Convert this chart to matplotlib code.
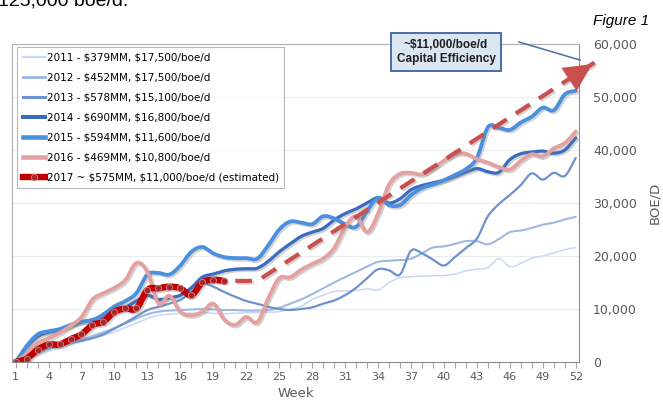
import numpy as np
import matplotlib
matplotlib.use("Agg")
import matplotlib.pyplot as plt
import matplotlib.patheffects as pe
from matplotlib.lines import Line2D
from matplotlib.ticker import FuncFormatter

# weekly production ramp, boe/d
weeks = list(range(1, 53))

prod_2011 = [0, 600, 1200, 2000, 2600, 3200, 3800, 4400, 5000, 5700,
             6500, 7300, 8200, 8800, 9000, 9200, 9200, 9300, 9200, 9100,
             9200, 9300, 9300, 9400, 9500, 10000, 10500, 11800, 12600, 13300,
             13400, 13500, 13800, 13600, 15000, 15900, 16100, 16200, 16300, 16300,
             16600, 17200, 17500, 17800, 19500, 18000, 18600, 19600, 20000, 20600,
             21200, 21600]
prod_2012 = [0, 800, 1600, 2400, 3000, 3500, 4200, 4900, 5600, 6400,
             7300, 8200, 9000, 9500, 9700, 9800, 9900, 10000, 9900, 9800,
             9800, 9700, 9700, 9800, 10200, 11000, 11800, 12800, 13900, 15000,
             16000, 17000, 18000, 18900, 19100, 19200, 19500, 20500, 21600, 21800,
             22300, 22800, 22800, 22200, 23200, 24500, 24800, 25300, 25900, 26300,
             26900, 27400]
prod_2013 = [0, 900, 1800, 2700, 3200, 3600, 4000, 4500, 5200, 6300,
             7400, 8600, 9800, 10400, 11000, 11700, 13200, 14800, 14200, 13200,
             12300, 11500, 11000, 10400, 10000, 9800, 10000, 10300, 11000, 11600,
             12600, 14000, 15800, 17500, 17300, 16500, 21000, 20500, 19300, 18200,
             19800, 21500, 23300, 27500, 29800, 31500, 33400, 35600, 34400, 35700,
             35100, 38500]
prod_2014 = [0, 2800, 4800, 5600, 6000, 6800, 7500, 8000, 8600, 9400,
             10300, 11500, 12600, 11800, 12100, 12600, 14000, 16000, 16600, 17200,
             17500, 17600, 17700, 19000, 20800, 22300, 23700, 24500, 25200, 26800,
             28000, 28900, 30000, 31000, 30000, 30800, 32500, 33300, 33800, 34300,
             35000, 35800, 36500, 35900, 35800, 38200, 39300, 39600, 39800, 39400,
             40000, 42300]
prod_2015 = [0, 3000, 5200, 5800, 6200, 7000, 7600, 7900, 9000, 10500,
             11500, 13000, 16500, 16800, 16500, 18200, 20800, 21700, 20500, 19800,
             19600, 19600, 19500, 22000, 25000, 26500, 26300, 26000, 27500, 27100,
             26000, 25500, 28500, 31000, 29600, 29600, 31500, 32800, 33500, 34300,
             35300, 36400, 38500, 44300, 44200, 43800, 45200, 46300, 48000, 47500,
             50500, 51200]
prod_2016 = [0, 1500, 3500, 4500, 5500, 6800, 8500, 11800, 13000, 14000,
             15500, 18700, 17000, 11000, 12500, 9500, 8800, 9500, 11000, 8000,
             7000, 8500, 7500, 12000, 15800, 16000, 17400, 18500, 19500, 21500,
             25500, 27500, 24500, 28000, 33500, 35500, 35700, 35400, 36500, 38000,
             39200, 39300, 38300, 37600, 36800, 36300, 38000, 39200, 38800, 40300,
             41300, 43500]
prod_2017 = [0, 600, 2300, 3300, 3300, 4300, 5200, 7000, 7600, 9500,
             10100, 10100, 13600, 13900, 14200, 13900, 12600, 15000, 15500, 15300]

# ~$11,000/boe/d outlook for the rest of 2017
trend_weeks = [21, 23, 53.7]
trend_vals = [15300, 15300, 56500]

labels = ["2011 - $379MM, $17,500/boe/d",
          "2012 - $452MM, $17,500/boe/d",
          "2013 - $578MM, $15,100/boe/d",
          "2014 - $690MM, $16,800/boe/d",
          "2015 - $594MM, $11,600/boe/d",
          "2016 - $469MM, $10,800/boe/d",
          "2017 ~ $575MM, $11,000/boe/d (estimated)"]


def smooth(x, y, n=8):
    # Catmull-Rom curve through the weekly points, like Excel's smoothed lines
    x = np.asarray(x, float)
    y = np.asarray(y, float)
    px = np.concatenate([[2 * x[0] - x[1]], x, [2 * x[-1] - x[-2]]])
    py = np.concatenate([[2 * y[0] - y[1]], y, [2 * y[-1] - y[-2]]])
    t = np.linspace(0, 1, n, endpoint=False)
    xs, ys = [], []
    for i in range(1, len(px) - 2):
        for p, out in ((px, xs), (py, ys)):
            p0, p1, p2, p3 = p[i - 1], p[i], p[i + 1], p[i + 2]
            out.extend(0.5 * (2 * p1 + (-p0 + p2) * t
                              + (2 * p0 - 5 * p1 + 4 * p2 - p3) * t ** 2
                              + (-p0 + 3 * p1 - 3 * p2 + p3) * t ** 3))
    xs.append(x[-1])
    ys.append(y[-1])
    return np.array(xs), np.array(ys)


def esc(s):
    # keep dollar signs literal instead of mathtext
    return s.replace("$", r"\$")


shadow = [pe.SimpleLineShadow(offset=(1.2, -1.2), shadow_color="#7f7f7f", alpha=0.35), pe.Normal()]

fig = plt.figure(figsize=(6.63, 4.04), dpi=100)
ax = fig.add_axes([0.0177, 0.104, 0.8557, 0.7871])

series = [
    (prod_2011, "#c9d8f0", 1.1, False),
    (prod_2012, "#9fb8e2", 1.5, False),
    (prod_2013, "#6e91cf", 1.6, False),
    (prod_2014, "#3a6cbf", 2.3, True),
    (prod_2015, "#4a8fe0", 2.7, True),
    (prod_2016, "#e5a0a0", 2.7, True),
]
handles = []
for (vals, color, lw, shade), lab in zip(series, labels):
    sx, sy = smooth(weeks[:len(vals)], vals)
    ax.plot(sx, sy, color=color, lw=lw, solid_capstyle="round",
            path_effects=shadow if shade else None)
    handles.append(Line2D([], [], color=color, lw=lw + 0.6))

# 2017 actuals
sx, sy = smooth(weeks[:len(prod_2017)], prod_2017)
ax.plot(sx, sy, color="#c00000", lw=4.6, solid_capstyle="round", path_effects=shadow)
ax.plot(weeks[:len(prod_2017)], prod_2017, "o", ms=4.5, mfc="#a3262e", mec="#d07a7a", mew=0.7)
handles.append(Line2D([], [], color="#c00000", lw=4.6, marker="o", ms=4.5,
                      mfc="#a3262e", mec="#d07a7a", mew=0.7))

# trend line with arrow
ax.plot(trend_weeks, trend_vals, color="#c9504f", lw=3.0, dashes=(4, 2.6),
        clip_on=False, path_effects=shadow)
ax.annotate("", xy=(trend_weeks[-1], trend_vals[-1]),
            xytext=(trend_weeks[-1] - 1.6, trend_vals[-1] - 2200),
            arrowprops=dict(arrowstyle="-|>,head_length=1.0,head_width=0.5",
                            mutation_scale=20, color="#c9504f", lw=0),
            annotation_clip=False)

ax.set_xlim(0.65, 52.3)
ax.set_ylim(0, 60000)
ax.set_xticks(weeks)
ax.set_xticklabels([str(w) if (w - 1) % 3 == 0 else "" for w in weeks])
ax.set_yticks(range(0, 60001, 10000))
ax.yaxis.set_major_formatter(FuncFormatter(lambda v, p: f"{int(v):,}"))
ax.yaxis.tick_right()
ax.tick_params(axis="x", direction="out", length=4, color="#a6a6a6",
               labelsize=8, labelcolor="#595959", pad=3)
ax.tick_params(axis="y", length=0, labelsize=9, labelcolor="#595959", pad=10)
ax.grid(axis="y", color="#ececec", lw=0.8)
ax.set_axisbelow(True)
for side in ["top", "left"]:
    ax.spines[side].set_color("#b0b0b0")
for side in ["right", "bottom"]:
    ax.spines[side].set_color("#8c8c8c")
ax.set_xlabel("Week", fontsize=9.5, color="#595959", labelpad=4)

leg = ax.legend(handles, [esc(s) for s in labels], loc="upper left",
                bbox_to_anchor=(0.009, 0.99), borderaxespad=0, fontsize=7.5,
                handlelength=2.2, handletextpad=0.1, labelspacing=0.95,
                frameon=True, fancybox=False, borderpad=0.55)
leg.get_frame().set_edgecolor("#a6a6a6")
leg.get_frame().set_linewidth(0.8)

fig.text(655 / 663, 1 - 203 / 404, "BOE/D", rotation=90, ha="center", va="center",
         fontsize=9.5, color="#595959")

# callout
fig.text(446 / 663, 1 - 52 / 404, esc("~$11,000/boe/d") + "\nCapital Efficiency",
         ha="center", va="center", family="Liberation Sans", fontweight="bold",
         fontsize=8.5, color="#1f1f1f", linespacing=1.3,
         bbox=dict(boxstyle="square,pad=0.5", fc="#dce6f2", ec="#4a6fa5", lw=1.4))
fig.add_artist(Line2D([519 / 663, 580 / 663], [1 - 42 / 404, 1 - 60 / 404],
                      color="#4a6fa5", lw=1.1))

fig.text(621 / 663, 1 - 21 / 404, "Figure 1", ha="center", va="center",
         family="Liberation Sans", style="italic", fontsize=11, color="#000000")
fig.text(-2 / 663, 1 - 1 / 404, "125,000 boe/d.", ha="left", va="center",
         family="Liberation Sans", fontsize=14, color="#000000")

fig.savefig("out.png", dpi=100)
